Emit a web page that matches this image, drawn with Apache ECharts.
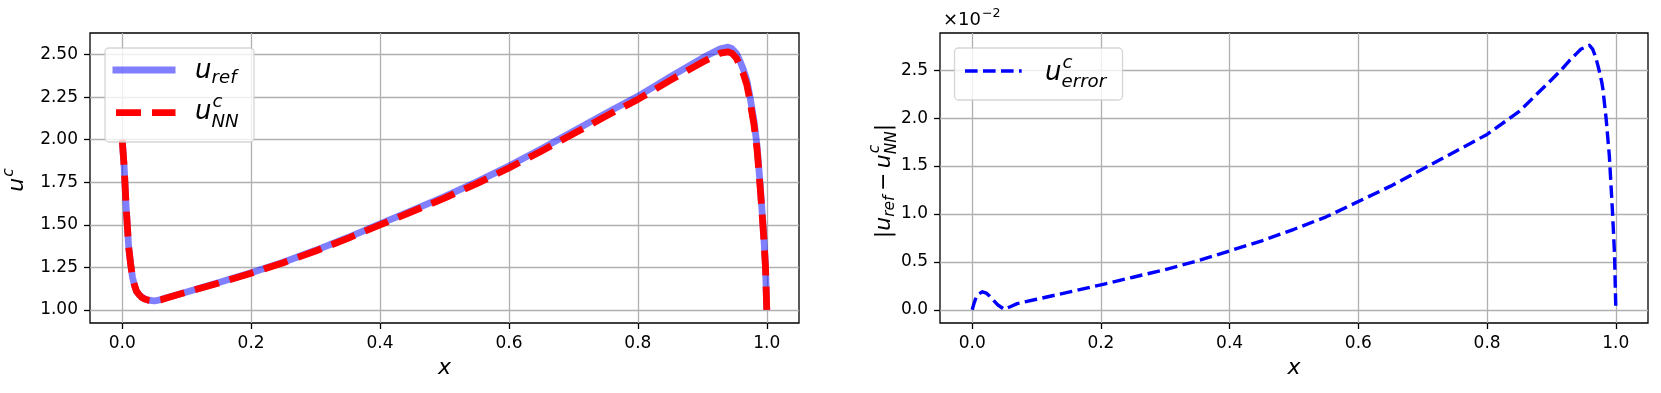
<!DOCTYPE html>
<html>
<head>
<meta charset="utf-8">
<script src="https://cdn.jsdelivr.net/npm/echarts@6/dist/echarts.min.js"></script>
<style>
  html, body { margin: 0; padding: 0; background: #fff; }
  #main { width: 1661px; height: 393px; }
</style>
</head>
<body>
<div id="main"></div>
<script>
// sample positions along x (denser near the boundary layers)
const xs = [0, 0.003, 0.006, 0.01, 0.013, 0.016, 0.019, 0.022, 0.026, 0.03, 0.035, 0.04, 0.05, 0.06, 0.07, 0.1, 0.15, 0.2, 0.25, 0.3,
  0.35, 0.4, 0.45, 0.5, 0.55, 0.6, 0.65, 0.7, 0.75, 0.8, 0.85, 0.9, 0.915, 0.928, 0.94, 0.946, 0.953, 0.959, 0.964, 0.969,
  0.974, 0.978, 0.98, 0.985, 0.99, 0.9925, 0.995, 0.998, 1.0];
// reference solution u_ref
const uRef = [2.00, 1.84, 1.61, 1.37, 1.27, 1.19, 1.145, 1.11, 1.09, 1.075, 1.064, 1.057, 1.052, 1.06, 1.072, 1.105, 1.16, 1.218, 1.28, 1.35,
  1.425, 1.505, 1.585, 1.665, 1.752, 1.845, 1.945, 2.05, 2.155, 2.255, 2.37, 2.48, 2.51, 2.535, 2.544, 2.535, 2.506, 2.457, 2.41, 2.35,
  2.252, 2.16, 2.116, 1.96, 1.725, 1.59, 1.453, 1.257, 1.00];
// network prediction u_NN
const uNN = [2.00, 1.84, 1.61, 1.37, 1.27, 1.19, 1.145, 1.11, 1.09, 1.074, 1.063, 1.057, 1.052, 1.059, 1.071, 1.104, 1.158, 1.215, 1.277, 1.346,
  1.42, 1.499, 1.578, 1.657, 1.742, 1.834, 1.932, 2.035, 2.138, 2.237, 2.349, 2.456, 2.485, 2.509, 2.517, 2.508, 2.479, 2.429, 2.383, 2.324,
  2.227, 2.136, 2.093, 1.94, 1.709, 1.577, 1.443, 1.252, 1.00];
// |u_ref - u_NN| in units of 1e-2
const uErr = [0, 0.07, 0.129, 0.165, 0.18, 0.188, 0.185, 0.174, 0.15, 0.12, 0.085, 0.05, 0.005, 0.035, 0.065, 0.11, 0.185, 0.26, 0.34, 0.42,
  0.51, 0.615, 0.72, 0.84, 0.97, 1.13, 1.29, 1.47, 1.65, 1.83, 2.07, 2.40, 2.5, 2.6, 2.68, 2.72, 2.74, 2.76, 2.72, 2.63,
  2.5, 2.38, 2.3, 1.99, 1.6, 1.3, 1.0, 0.58, 0];

const xTicks = [0, 0.2, 0.4, 0.6, 0.8, 1.0];
const yTicksLeft = [1.0, 1.25, 1.5, 1.75, 2.0, 2.25, 2.5];
const yTicksRight = [0, 0.5, 1.0, 1.5, 2.0, 2.5];

const FAM = 'DejaVu Sans';
const GRID_COLOR = '#b0b0b0';

const chart = echarts.init(document.getElementById('main'), null, { renderer: 'canvas' });

// --- small mathtext-like layout helper (base glyph + sup/sub scripts) ---
const meas = document.createElement('canvas').getContext('2d');
const fnt = (size, it) => (it ? 'italic ' : '') + size + 'px "' + FAM + '"';
const wOf = (s, size, it) => { meas.font = fnt(size, it); return meas.measureText(s).width; };
function txt(s, x, base, size, it) {
  return {
    type: 'text', x: x, y: base - 0.346 * size, z: 101,
    style: { text: s, font: fnt(size, it), fill: '#000', align: 'left', verticalAlign: 'middle' }
  };
}
function mathRow(atoms, size) {
  const ss = size * 0.7;
  const out = [];
  let x = 0;
  atoms.forEach(a => {
    const it = a.it !== false;
    x += a.pad || 0;
    out.push(txt(a.b, x, 0, size, it));
    x += wOf(a.b, size, it);
    let adv = 0;
    const sit = a.sit !== false;
    if (a.sup) {
      out.push(txt(a.sup, x + 1, -size * 0.5, ss, sit));
      adv = Math.max(adv, wOf(a.sup, ss, sit) + 1);
    }
    if (a.sub) {
      const drop = a.sup ? size * 0.26 : size * 0.165;
      out.push(txt(a.sub, x, drop, ss, sit));
      adv = Math.max(adv, wOf(a.sub, ss, sit));
    }
    x += adv + (a.pad || 0);
  });
  return { children: out, width: x };
}
function mathGroup(atoms, size, x, y, opts) {
  opts = opts || {};
  const row = mathRow(atoms, size);
  const shift = opts.center ? -row.width / 2 : 0;
  row.children.forEach(c => { c.x += shift; });
  return { type: 'group', x: x, y: y, rotation: opts.rot || 0, z: 101, children: row.children };
}

function xAxis(gi) {
  return {
    type: 'value', gridIndex: gi, min: -0.05, max: 1.05,
    name: 'x', nameLocation: 'middle', nameGap: 34,
    nameTextStyle: { fontFamily: FAM, fontStyle: 'italic', fontSize: 22, color: '#000' },
    axisLine: { show: false, onZero: false },
    axisTick: { show: true, length: 6, customValues: xTicks, lineStyle: { color: '#000', width: 1.3 } },
    axisLabel: { customValues: xTicks, formatter: v => v.toFixed(1), color: '#000', fontFamily: FAM, fontSize: 17, margin: 12 },
    splitLine: { show: true, lineStyle: { color: GRID_COLOR, width: 1.3 } }
  };
}
function yAxis(gi, min, max, ticks, dec) {
  return {
    type: 'value', gridIndex: gi, min: min, max: max,
    axisLine: { show: false, onZero: false },
    axisTick: { show: true, length: 6, customValues: ticks, lineStyle: { color: '#000', width: 1.3 } },
    axisLabel: { customValues: ticks, formatter: v => v.toFixed(dec), color: '#000', fontFamily: FAM, fontSize: 17, margin: 12 },
    splitLine: { show: true, lineStyle: { color: GRID_COLOR, width: 1.3 } }
  };
}

const pairs = ys => xs.map((x, i) => [x, ys[i]]);

const option = {
  backgroundColor: '#fff',
  animation: false,
  grid: [
    { left: 90, top: 33, width: 709, height: 290, show: true, borderColor: '#000', borderWidth: 1.3, backgroundColor: 'transparent' },
    { left: 940, top: 33, width: 708, height: 290, show: true, borderColor: '#000', borderWidth: 1.3, backgroundColor: 'transparent' }
  ],
  xAxis: [xAxis(0), xAxis(1)],
  yAxis: [yAxis(0, 0.9225, 2.6275, yTicksLeft, 2), yAxis(1, -0.1375, 2.8875, yTicksRight, 1)],
  series: [
    {
      name: 'u_ref', type: 'line', xAxisIndex: 0, yAxisIndex: 0, data: pairs(uRef),
      showSymbol: false, smooth: false,
      lineStyle: { color: 'rgba(0,0,255,0.5)', width: 6.8, join: 'round' }, z: 2
    },
    {
      name: 'u_NN', type: 'line', xAxisIndex: 0, yAxisIndex: 0, data: pairs(uNN),
      showSymbol: false, smooth: false,
      lineStyle: { color: '#ff0000', width: 6.8, type: [25, 11], join: 'round' }, z: 3
    },
    {
      name: 'u_error', type: 'line', xAxisIndex: 1, yAxisIndex: 1, data: pairs(uErr),
      showSymbol: false, smooth: false,
      lineStyle: { color: '#0000ff', width: 3.4, type: [12.6, 5.4], join: 'round' }, z: 3
    }
  ],
  graphic: [
    // left legend
    { type: 'rect', z: 99, shape: { x: 105, y: 48, width: 149, height: 94, r: 4 },
      style: { fill: 'rgba(255,255,255,0.8)', stroke: 'rgba(204,204,204,0.8)', lineWidth: 1.3 } },
    { type: 'line', z: 100, shape: { x1: 112.5, y1: 70, x2: 175.5, y2: 70 },
      style: { stroke: 'rgba(0,0,255,0.5)', lineWidth: 6.8 } },
    { type: 'line', z: 100, shape: { x1: 116, y1: 112.7, x2: 175.5, y2: 112.7 },
      style: { stroke: '#ff0000', lineWidth: 6.8, lineDash: [25, 11] } },
    mathGroup([{ b: 'u', sub: 'ref' }], 26, 195, 80),
    mathGroup([{ b: 'u', sup: 'c', sub: 'NN' }], 26, 195, 121.7),
    // right legend
    { type: 'rect', z: 99, shape: { x: 954.5, y: 48, width: 168, height: 52, r: 4 },
      style: { fill: 'rgba(255,255,255,0.8)', stroke: 'rgba(204,204,204,0.8)', lineWidth: 1.3 } },
    { type: 'line', z: 100, shape: { x1: 965, y1: 71, x2: 1021.7, y2: 71 },
      style: { stroke: '#0000ff', lineWidth: 3.4, lineDash: [12.6, 5.4] } },
    mathGroup([{ b: 'u', sup: 'c', sub: 'error' }], 26, 1045, 82.3),
    // y axis titles
    mathGroup([{ b: 'u', sup: 'c' }], 22, 25, 180, { center: true, rot: Math.PI / 2 }),
    mathGroup([{ b: '|', it: false }, { b: 'u', sub: 'ref' }, { b: '\u2212', it: false, pad: 4.5 },
      { b: 'u', sup: 'c', sub: 'NN' }, { b: '|', it: false }], 22, 891.5, 181, { center: true, rot: Math.PI / 2 }),
    // offset text of the right axis
    mathGroup([{ b: '\u00d710', it: false, sup: '\u22122', sit: false }], 18, 943, 26.7)
  ]
};

chart.setOption(option);
</script>
</body>
</html>
